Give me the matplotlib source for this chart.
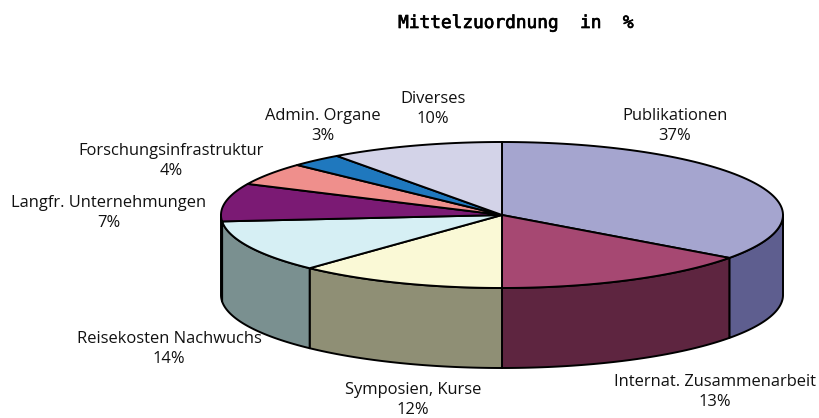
import matplotlib
matplotlib.use('Agg')
import matplotlib.pyplot as plt
import matplotlib.patheffects as pe
import numpy as np

# slice shares as drawn (the printed labels differ a bit from the drawn angles)
categories = ['Publikationen', 'Internat. Zusammenarbeit', 'Symposien, Kurse',
              'Reisekosten Nachwuchs', 'Langfr. Unternehmungen',
              'Forschungsinfrastruktur', 'Admin. Organe', 'Diverses']
shares = [35, 15, 12, 11.6, 8.4, 5, 3, 10]
percent_labels = ['37%', '13%', '12%', '14%', '7%', '4%', '3%', '10%']

top_colors = ['#A5A5CF', '#A64872', '#FAF9D6', '#D6EFF4',
              '#7B1A74', '#EF8F8C', '#1F78BE', '#D3D3E8']
side_colors = ['#5E5E8F', '#5E2540', '#8F8F75', '#7A9090',
               '#7A9090', '#EF8F8C', '#1F78BE', '#D3D3E8']

label_pos = [(675, 126), (715, 392), (413, 400), (169, 349),
             (109, 213), (171, 161), (323, 126), (433, 109)]

cx, cy, rx, ry, depth = 502, 215, 281, 73, 80

plt.rcParams['font.family'] = ['Open Sans', 'DejaVu Sans']

fig = plt.figure(figsize=(8.2, 4.18), dpi=100)
ax = fig.add_axes([0, 0, 1, 1])
ax.set_xlim(0, 820)
ax.set_ylim(418, 0)
ax.axis('off')

edges = np.cumsum([0] + shares) / np.sum(shares) * 2 * np.pi


def rim(a0, a1, dy=0):
    t = np.linspace(a0, a1, 80)
    return cx + rx * np.sin(t), cy - ry * np.cos(t) + dy


# side walls, only the front half of the disc shows
for i in range(len(shares)):
    a0 = max(edges[i], np.pi / 2)
    a1 = min(edges[i + 1], 3 * np.pi / 2)
    if a1 <= a0:
        continue
    x, y = rim(a0, a1)
    xb, yb = rim(a0, a1, depth)
    ax.fill(np.r_[x, xb[::-1]], np.r_[y, yb[::-1]], fc=side_colors[i],
            ec='black', lw=1.4, joinstyle='round')

# top of the disc
for i in range(len(shares)):
    x, y = rim(edges[i], edges[i + 1])
    ax.fill(np.r_[cx, x], np.r_[cy, y], fc=top_colors[i],
            ec='black', lw=1.4, joinstyle='round')

for name, pct, (x, y) in zip(categories, percent_labels, label_pos):
    ax.text(x, y, name + '\n' + pct, ha='center', va='center', fontsize=11.9,
            color='#111111', linespacing=1.38)

title = ax.text(515, 23, 'Mittelzuordnung  in  %', ha='center', va='center',
                family='DejaVu Sans Mono', fontsize=12.8, color='black')
title.set_path_effects([pe.withStroke(linewidth=0.5, foreground='black')])

fig.savefig('out.png', dpi=100)
